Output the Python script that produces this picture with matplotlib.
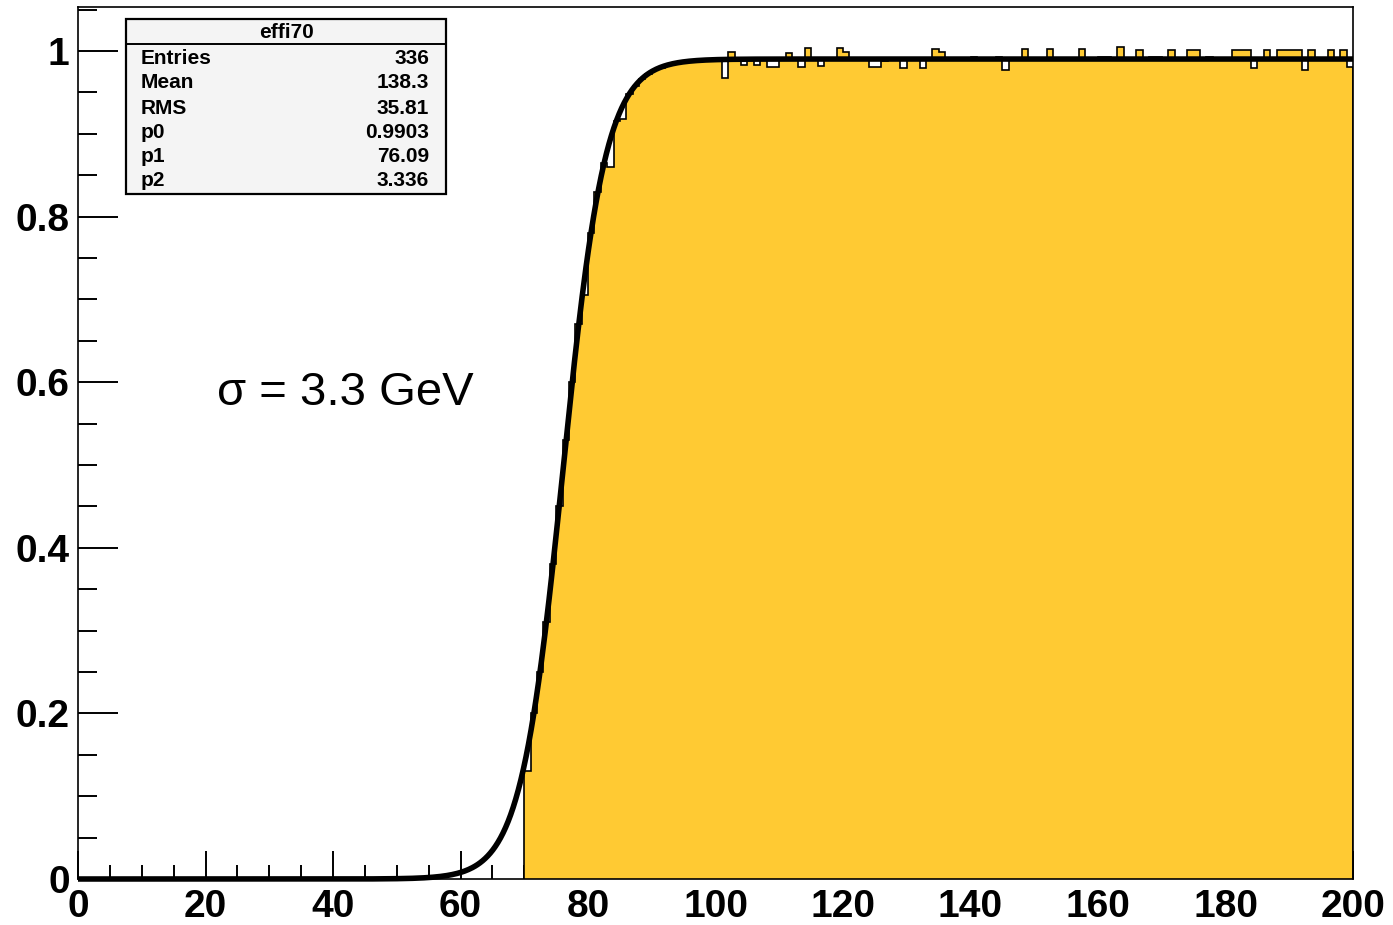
import numpy as np
import matplotlib
matplotlib.use("Agg")
import matplotlib.pyplot as plt
from matplotlib.patches import Rectangle

# ---- data -------------------------------------------------------------
bin_low = 70
bin_high = 200
bin_values = [
    # 70-79
    0.130, 0.200, 0.250, 0.310, 0.380, 0.450, 0.530, 0.600, 0.670, 0.705,
    # 80-89
    0.780, 0.830, 0.865, 0.860, 0.915, 0.918, 0.948, 0.958, 0.966, 0.972,
    # 90-99
    0.977, 0.980, 0.983, 0.985, 0.986, 0.987, 0.988, 0.989, 0.989, 0.990,
    # 100-109
    0.990, 0.967, 0.999, 0.990, 0.983, 0.990, 0.983, 0.990, 0.981, 0.981,
    # 110-119
    0.990, 0.998, 0.990, 0.981, 1.004, 0.990, 0.982, 0.990, 0.990, 1.004,
    # 120-129
    0.999, 0.990, 0.990, 0.990, 0.981, 0.981, 0.988, 0.990, 0.992, 0.979,
    # 130-139
    0.990, 0.992, 0.980, 0.990, 1.002, 0.999, 0.990, 0.990, 0.990, 0.990,
    # 140-149
    0.993, 0.990, 0.990, 0.990, 0.993, 0.977, 0.990, 0.990, 1.002, 0.990,
    # 150-159
    0.990, 0.990, 1.002, 0.990, 0.990, 0.990, 0.990, 1.002, 0.990, 0.990,
    # 160-169
    0.993, 0.993, 0.990, 1.005, 0.992, 0.990, 1.001, 0.990, 0.993, 0.993,
    # 170-179
    0.990, 1.001, 0.990, 0.990, 1.001, 1.001, 0.990, 0.993, 0.990, 0.990,
    # 180-189
    0.990, 1.001, 1.001, 1.001, 0.979, 0.990, 1.001, 0.990, 1.001, 1.001,
    # 190-199
    1.001, 1.001, 0.977, 1.001, 0.990, 0.990, 1.001, 0.992, 1.001, 0.981,
]

# fit parameters (from stats box)
p0, p1, p2 = 0.9903, 76.09, 3.336

stats_title = "effi70"
stats_names = ["Entries", "Mean", "RMS", "p0", "p1", "p2"]
stats_vals = ["336", "138.3", "35.81", "0.9903", "76.09", "3.336"]

x_ticks = [0, 20, 40, 60, 80, 100, 120, 140, 160, 180, 200]
y_ticks = [0, 0.2, 0.4, 0.6, 0.8, 1.0]
y_tick_labels = ["0", "0.2", "0.4", "0.6", "0.8", "1"]
annotation = "σ = 3.3 GeV"

# ---- figure -----------------------------------------------------------
W, H = 1393, 925
fig = plt.figure(figsize=(W / 100, H / 100), dpi=100)
ax = fig.add_axes([78 / W, 1 - 879 / H, (1353 - 78) / W, (879 - 7) / H])

edges = np.arange(bin_low, bin_high + 1)
vals = np.array(bin_values)
fill_col = "#FFCA33"
ax.stairs(vals, edges, fill=True, color=fill_col, baseline=0, zorder=2)
ax.stairs(vals, edges, fill=False, color="black", lw=1.2, baseline=0, zorder=3)

xf = np.linspace(0, 200, 1000)
yf = p0 / (1 + np.exp(-(xf - p1) / p2))
ax.plot(xf, yf, color="black", lw=4.0, zorder=6, solid_capstyle="butt", clip_on=False)

ax.set_xlim(0, 200)
ax.set_ylim(0, (879 - 7) / 828)

fam = ["Liberation Sans", "DejaVu Sans"]
ax.set_xticks(x_ticks)
ax.set_xticklabels([str(v) for v in x_ticks], fontsize=28, fontweight="bold", family=fam)
ax.set_yticks(y_ticks)
ax.set_yticklabels(y_tick_labels, fontsize=28, fontweight="bold", family=fam)
ax.set_xticks(np.arange(0, 201, 5), minor=True)
ax.set_yticks(np.arange(0, 1.051, 0.05), minor=True)
ax.tick_params(axis="x", which="major", direction="in", length=20, width=1.4, pad=7)
ax.tick_params(axis="x", which="minor", direction="in", length=10, width=1.4)
ax.tick_params(axis="y", which="major", direction="in", length=29, width=1.4, pad=6)
ax.tick_params(axis="y", which="minor", direction="in", length=14, width=1.4)
for s in ax.spines.values():
    s.set_linewidth(1.2)
    s.set_zorder(5)

# annotation
ax.text(217 / W, 1 - 393 / H, annotation, transform=fig.transFigure, fontsize=34,
        family=fam, va="center", ha="left")

# stats box
bx0, bx1, by0, by1 = 126, 446, 19, 194
fig.patches.append(Rectangle((bx0 / W, 1 - by1 / H), (bx1 - bx0) / W, (by1 - by0) / H,
                             transform=fig.transFigure, facecolor="#F4F4F4",
                             edgecolor="black", lw=1.6, zorder=10))
fig.add_artist(plt.Line2D([bx0 / W, bx1 / W], [1 - 44 / H, 1 - 44 / H],
                          transform=fig.transFigure, color="black", lw=1.4, zorder=11))
fig.text((bx0 + bx1) / 2 / W, 1 - 32 / H, stats_title, ha="center", va="center",
         fontsize=15, fontweight="bold", family=fam, zorder=12)
row_y = [58, 83, 108, 132, 156, 181]
for name, val, yy in zip(stats_names, stats_vals, row_y):
    fig.text(141 / W, 1 - yy / H, name, ha="left", va="center", fontsize=15,
             fontweight="bold", family=fam, zorder=12)
    fig.text(429 / W, 1 - yy / H, val, ha="right", va="center", fontsize=15,
             fontweight="bold", family=fam, zorder=12)

fig.savefig("out.png", dpi=100)
